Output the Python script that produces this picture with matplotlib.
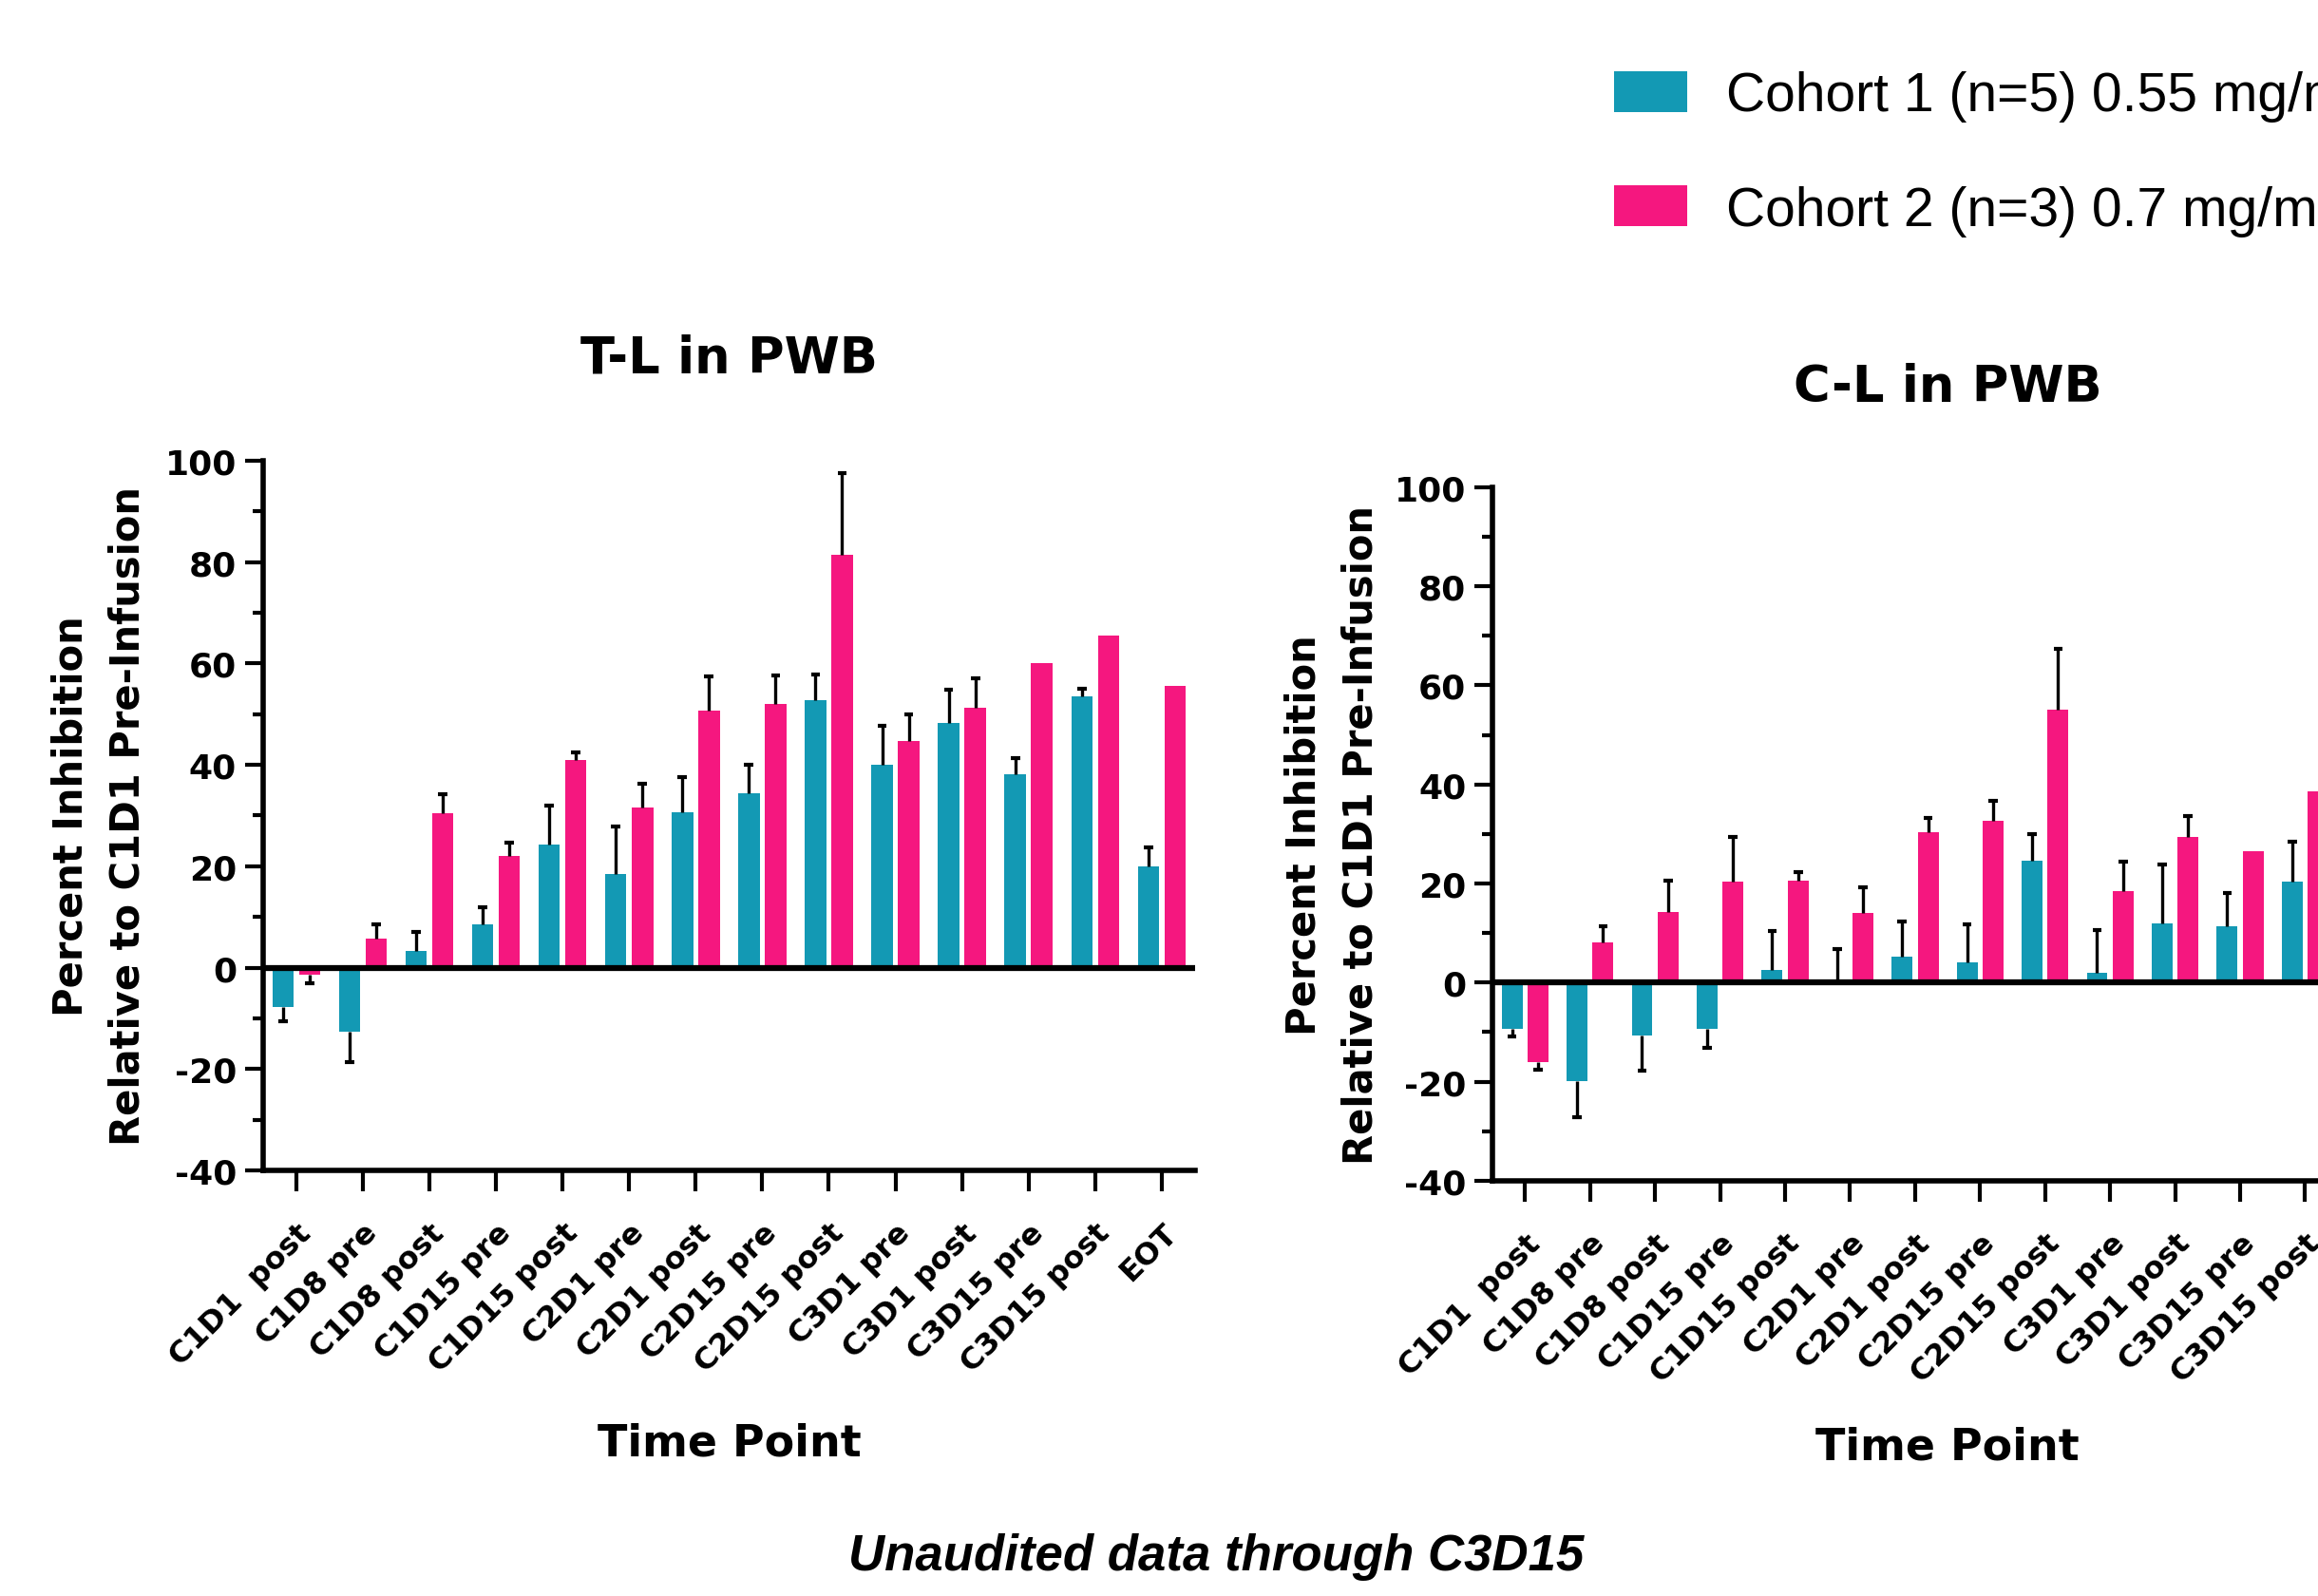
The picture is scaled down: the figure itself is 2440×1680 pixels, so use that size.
import numpy as np
import matplotlib
matplotlib.use('Agg')
import matplotlib.pyplot as plt
from matplotlib.ticker import MultipleLocator

plt.rcParams['font.family'] = ['DejaVu Sans']
plt.rcParams['axes.unicode_minus'] = False

# T-L in PWB (left panel)
tl_labels = ['C1D1  post', 'C1D8 pre', 'C1D8 post', 'C1D15 pre', 'C1D15 post',
             'C2D1 pre', 'C2D1 post', 'C2D15 pre', 'C2D15 post', 'C3D1 pre',
             'C3D1 post', 'C3D15 pre', 'C3D15 post', 'EOT']
tl_cohort1 = [-7.7, -12.6, 3.2, 8.6, 24.2, 18.5, 30.7, 34.4, 52.8, 40.0, 48.2, 38.1, 53.5, 19.9]
tl_cohort1_err = [2.8, 6.1, 3.8, 3.3, 7.8, 9.4, 6.8, 5.7, 5.0, 7.7, 6.7, 3.2, 1.6, 3.8]
tl_cohort2 = [-1.4, 5.7, 30.5, 22.0, 41.0, 31.6, 50.7, 52.1, 81.4, 44.8, 51.2, 60.0, 65.5, 55.6]
tl_cohort2_err = [1.7, 2.8, 3.8, 2.7, 1.5, 4.6, 6.7, 5.5, 16.2, 5.1, 5.8, 0, 0, 0]

# C-L in PWB (right panel, cut off at the right edge)
cl_labels = ['C1D1  post', 'C1D8 pre', 'C1D8 post', 'C1D15 pre', 'C1D15 post',
             'C2D1 pre', 'C2D1 post', 'C2D15 pre', 'C2D15 post', 'C3D1 pre',
             'C3D1 post', 'C3D15 pre', 'C3D15 post']
cl_cohort1 = [-9.3, -19.8, -10.6, -9.3, 2.5, 0.6, 5.2, 4.0, 24.6, 1.9, 11.9, 11.3, 20.3]
cl_cohort1_err = [1.6, 7.3, 7.1, 3.8, 8.0, 6.2, 7.2, 7.8, 5.4, 8.7, 11.9, 6.8, 8.1]
cl_cohort2 = [-16.0, 8.2, 14.3, 20.4, 20.5, 14.1, 30.4, 32.6, 55.1, 18.5, 29.4, 26.6, 38.6]
cl_cohort2_err = [1.6, 3.1, 6.2, 9.0, 1.8, 5.2, 2.9, 4.1, 12.3, 6.0, 4.3, 0, 0]

legend_labels = ['Cohort 1 (n=5) 0.55 mg/m\u00b2', 'Cohort 2 (n=3) 0.7 mg/m\u00b2']

teal = '#1399B4'
pink = '#F5177F'


def draw_panel(ax, labels, c1, c1_err, c2, c2_err, title):
    x = np.arange(len(labels))
    w = 0.32
    off = 0.2
    b1 = ax.bar(x - off, c1, w, color=teal, zorder=2)
    b2 = ax.bar(x + off, c2, w, color=pink, zorder=2)

    # one-sided error bars, pointing away from zero
    for xs, vals, errs in ((x - off, c1, c1_err), (x + off, c2, c2_err)):
        vals = np.array(vals)
        errs = np.array(errs)
        keep = errs > 0
        tips = vals + np.sign(vals) * errs
        ax.vlines(xs[keep], vals[keep], tips[keep], color='black', lw=2.4, zorder=3)
        ax.hlines(tips[keep], xs[keep] - 0.07, xs[keep] + 0.07, color='black', lw=3, zorder=3)

    ax.axhline(0, color='black', lw=4.5, zorder=4)
    ax.set_xlim(-0.5, 13.5)
    ax.set_ylim(-40, 100)

    ax.set_xticks(x)
    ax.set_xticklabels(labels, rotation=45, ha='right', va='top', rotation_mode='anchor',
                       fontsize=23, fontweight='bold')
    ax.set_yticks(range(-40, 101, 20))
    ax.yaxis.set_minor_locator(MultipleLocator(10))
    for lab in ax.get_yticklabels():
        lab.set_fontsize(26)
        lab.set_fontweight('bold')

    ax.tick_params(axis='y', which='major', length=14, width=3, pad=6)
    ax.tick_params(axis='y', which='minor', length=8, width=3)
    ax.tick_params(axis='x', which='major', length=16, width=3, pad=20)

    for s in ['top', 'right']:
        ax.spines[s].set_visible(False)
    for s in ['left', 'bottom']:
        ax.spines[s].set_linewidth(4)

    ax.set_ylabel('Percent Inhibition\nRelative to C1D1 Pre-Infusion', fontsize=30,
                  fontweight='bold', linespacing=1.55, va='center', rotation_mode='default')
    ax.yaxis.set_label_coords(-0.176, 0.5)
    ax.set_xlabel('Time Point', fontsize=33, fontweight='bold', va='center')
    ax.xaxis.set_label_coords(0.5, -0.384)
    ax.set_title(title, fontsize=38, fontweight='bold', y=1.145, va='center', pad=0)
    return b1, b2


fig = plt.figure(figsize=(24.4, 16.81), dpi=100)
ax1 = fig.add_axes([0.1135, 0.2665, 0.402, 0.4444])
ax2 = fig.add_axes([0.6439, 0.26, 0.3926, 0.4343])

bars = draw_panel(ax1, tl_labels, tl_cohort1, tl_cohort1_err, tl_cohort2, tl_cohort2_err, 'T-L in PWB')
draw_panel(ax2, cl_labels, cl_cohort1, cl_cohort1_err, cl_cohort2, cl_cohort2_err, 'C-L in PWB')

fig.legend(bars, legend_labels, loc='upper left', bbox_to_anchor=(0.6963, 0.9554),
           frameon=False, borderpad=0, borderaxespad=0, handlelength=1.35,
           handleheight=0.79, handletextpad=0.72, labelspacing=1.17,
           prop={'family': ['Liberation Sans'], 'size': 41})

fig.text(0.5246, 1 - 1639 / 1681, 'Unaudited data through C3D15', ha='center', va='center',
         fontsize=38, fontweight='bold', fontstyle='italic', family=['Liberation Sans'])

fig.savefig('out.png', dpi=100)
